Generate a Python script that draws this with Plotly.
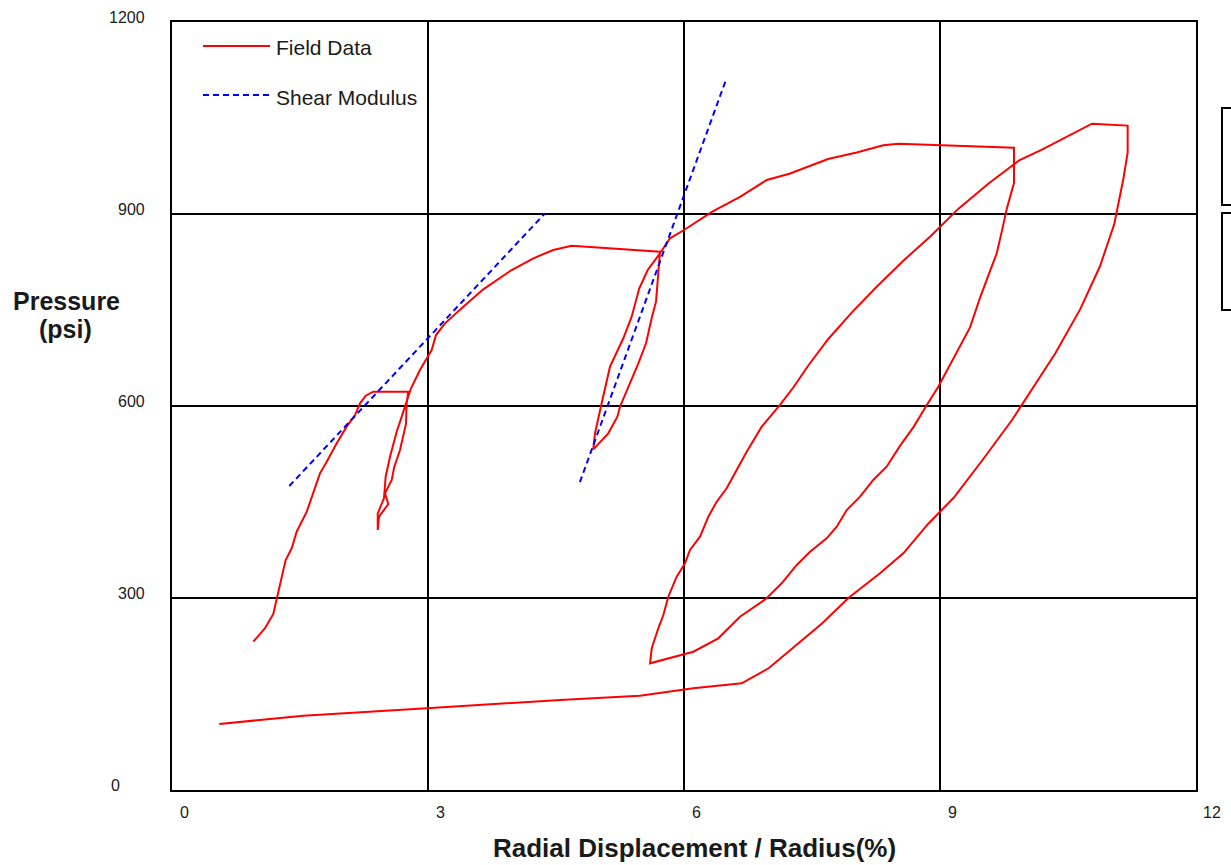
import plotly.graph_objects as go

# Field pressuremeter test: radial displacement / radius (%) vs pressure (psi)
field_x = [0.953, 1.090, 1.187, 1.234, 1.332, 1.403, 1.461, 1.579, 1.734, 1.813,
           1.930, 2.047, 2.145, 2.203, 2.270, 2.359, 2.769,
           2.750, 2.742, 2.672, 2.605, 2.575, 2.496, 2.535, 2.426, 2.411,
           2.411, 2.484, 2.504, 2.555, 2.633, 2.692, 2.742, 2.801, 2.906, 3.043,
           3.094, 3.199, 3.414, 3.648, 3.981, 4.234, 4.468, 4.684, 5.719,
           5.699, 5.672, 5.621, 5.555, 5.465, 5.347, 5.250, 5.219, 5.113, 4.937,
           4.957, 5.035, 5.133, 5.289, 5.387, 5.476, 5.575, 5.719, 5.836, 6.000,
           6.332, 6.661, 6.969, 7.236, 7.688, 8.024, 8.336, 8.512, 9.867,
           9.867, 9.832, 9.782, 9.735, 9.665, 9.566, 9.469, 9.352, 9.234, 9.097,
           8.980, 8.844, 8.687, 8.531, 8.375, 8.218, 8.063, 7.907, 7.790, 7.672,
           7.477, 7.321, 7.145, 6.969, 6.656, 6.402, 6.109, 5.602,
           5.622, 5.699, 5.758, 5.816, 5.914, 6.012, 6.070, 6.188, 6.285, 6.383,
           6.500, 6.617, 6.735, 6.911, 7.125, 7.281, 7.457, 7.691, 7.965, 8.258,
           8.570, 8.883, 9.214, 9.566, 9.922, 10.195, 10.781, 11.199,
           11.199, 11.148, 11.043, 10.875, 10.645, 10.352, 10.039, 9.844, 9.492,
           9.160, 8.863, 8.570, 8.297, 7.930, 7.617, 7.344, 6.992, 6.676, 6.109,
           5.484, 4.547, 2.985, 1.539, 1.031, 0.554]
field_y = [231.7, 252.7, 275.0, 302.0, 359.4, 377.7, 403.6, 434.8, 494.8, 513.0,
           541.7, 567.7, 585.9, 604.2, 616.1, 622.3, 622.3,
           604.2, 571.9, 531.3, 505.2, 484.4, 463.6, 446.9, 427.0, 406.3,
           432.3, 455.8, 489.5, 520.8, 559.8, 583.3, 604.2, 627.7, 656.3, 687.5,
           710.9, 729.2, 755.2, 782.3, 812.5, 830.8, 843.8, 850.5, 841.1,
           812.5, 763.0, 737.0, 698.0, 666.7, 630.2, 598.9, 583.3, 557.3, 532.3,
           557.3, 604.2, 661.4, 705.8, 739.5, 783.9, 812.5, 838.6, 862.0, 875.0,
           903.8, 927.3, 953.1, 963.0, 985.9, 996.0, 1007.5, 1009.8, 1003.4,
           948.4, 931.3, 908.0, 879.1, 838.6, 803.8, 769.1, 722.8, 693.9, 659.2,
           630.2, 601.3, 566.6, 537.7, 505.2, 484.4, 458.3, 437.5, 411.4, 393.3,
           372.3, 351.6, 323.0, 299.5, 270.8, 237.0, 216.1, 198.0,
           221.4, 252.7, 273.4, 302.0, 333.3, 354.2, 375.0, 395.8, 427.0, 450.5,
           471.4, 500.0, 528.6, 567.7, 601.6, 628.9, 663.3, 704.7, 745.9, 786.4,
           827.0, 864.5, 908.0, 947.3, 983.3, 1000.6, 1041.1, 1038.1,
           996.0, 954.2, 884.8, 818.3, 751.7, 682.3, 618.6, 578.1, 514.5,
           456.6, 416.1, 369.8, 338.6, 300.3, 260.2, 229.7, 190.2, 166.7, 158.9,
           147.3, 140.6, 127.7, 116.1, 109.4, 103.1]

# Shear modulus fits (two straight segments)
shear1_x = [1.375, 4.371]
shear1_y = [475, 901]
shear2_x = [4.78, 6.49]
shear2_y = [481, 1109]

x_ticks = [0, 3, 6, 9, 12]
y_ticks = [0, 300, 600, 900, 1200]

FONT = "Liberation Sans, Arial, sans-serif"
TXT = "#1a1a1a"

fig = go.Figure()
fig.add_trace(go.Scatter(x=field_x, y=field_y, mode="lines",
                         line=dict(color="#ff0000", width=2), name="Field Data",
                         showlegend=False))
fig.add_trace(go.Scatter(x=shear1_x, y=shear1_y, mode="lines",
                         line=dict(color="#0000ff", width=2, dash="6px,4px"),
                         name="Shear Modulus", showlegend=False))
fig.add_trace(go.Scatter(x=shear2_x, y=shear2_y, mode="lines",
                         line=dict(color="#0000ff", width=2, dash="6px,4px"),
                         showlegend=False))

L, R, T, B = 172, 35, 22, 75
W, H = 1231, 865
PW, PH = W - L - R, H - T - B


def px(xp):
    return (xp - L) / PW


def py(yp):
    return (H - B - yp) / PH


annotations = []
for v in x_ticks:
    annotations.append(dict(x=v, y=0, xref="x", yref="paper", text=str(v),
                            showarrow=False, xanchor="center", yanchor="middle",
                            xshift=12 if v < 12 else 16, yshift=-22,
                            font=dict(family=FONT, size=16, color=TXT)))
for v in y_ticks:
    annotations.append(dict(x=0, y=v, xref="paper", yref="y", text=str(v),
                            showarrow=False, xanchor="right", yanchor="middle",
                            xshift=-25 if v > 0 else -50, yshift=5,
                            font=dict(family=FONT, size=16, color=TXT)))

annotations.append(dict(x=0.5107, y=0, xref="paper", yref="paper",
                        text="<b>Radial Displacement / Radius(%)</b>",
                        showarrow=False, xanchor="center", yanchor="middle",
                        yshift=-58, font=dict(family=FONT, size=26, color=TXT)))
annotations.append(dict(x=0, y=py(301), xref="paper", yref="paper",
                        text="<b>Pressure</b>", showarrow=False,
                        xanchor="center", yanchor="middle", xshift=-106,
                        font=dict(family=FONT, size=25, color=TXT)))
annotations.append(dict(x=0, y=py(329), xref="paper", yref="paper",
                        text="<b>(psi)</b>", showarrow=False,
                        xanchor="center", yanchor="middle", xshift=-107,
                        font=dict(family=FONT, size=25, color=TXT)))

# legend
annotations.append(dict(x=px(274), y=py(48), xref="paper", yref="paper",
                        text="Field Data", showarrow=False, xanchor="left",
                        yanchor="middle", font=dict(family=FONT, size=21, color=TXT)))
annotations.append(dict(x=px(274), y=py(97), xref="paper", yref="paper",
                        text="Shear Modulus", showarrow=False, xanchor="left",
                        yanchor="middle", font=dict(family=FONT, size=21, color=TXT)))

shapes = [
    dict(type="line", xref="paper", yref="paper", x0=px(203), x1=px(270),
         y0=py(46), y1=py(46), line=dict(color="#ff0000", width=2)),
    dict(type="line", xref="paper", yref="paper", x0=px(203), x1=px(270),
         y0=py(95), y1=py(95), line=dict(color="#0000ff", width=2, dash="6px,4px")),
    dict(type="rect", xref="paper", yref="paper", x0=px(1222), x1=px(1300),
         y0=py(205), y1=py(108), line=dict(color="black", width=2)),
    dict(type="rect", xref="paper", yref="paper", x0=px(1222), x1=px(1300),
         y0=py(310), y1=py(213), line=dict(color="black", width=2)),
]

fig.update_layout(
    width=W, height=H,
    margin=dict(l=L, r=R, t=T, b=B),
    paper_bgcolor="white", plot_bgcolor="white",
    annotations=annotations, shapes=shapes,
    xaxis=dict(range=[0, 12], tickvals=x_ticks, showticklabels=False,
               showgrid=True, gridcolor="black", gridwidth=2, zeroline=False,
               showline=True, linecolor="black", linewidth=2, mirror=True, ticks=""),
    yaxis=dict(range=[0, 1200], tickvals=y_ticks, showticklabels=False,
               showgrid=True, gridcolor="black", gridwidth=2, zeroline=False,
               showline=True, linecolor="black", linewidth=2, mirror=True, ticks=""),
)

fig.write_html("out.html")
